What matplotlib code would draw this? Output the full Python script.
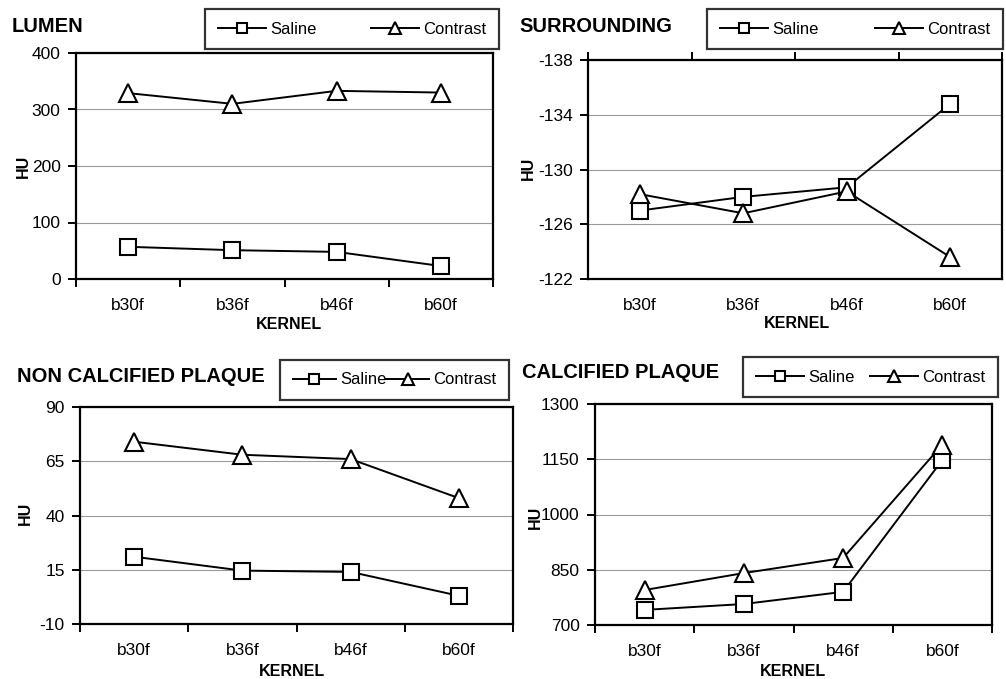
import matplotlib
matplotlib.use("Agg")
import matplotlib.pyplot as plt
from matplotlib.ticker import FixedLocator

plt.rcParams['font.family'] = ['Liberation Sans', 'DejaVu Sans']

kernels = ["b30f", "b36f", "b46f", "b60f"]

lumen_saline = [57, 51, 48, 23]
lumen_contrast = [329, 310, 333, 330]

surr_saline = [-127.0, -128.0, -128.7, -134.8]
surr_contrast = [-128.2, -126.8, -128.4, -123.6]

ncp_saline = [21, 14.6, 14, 3]
ncp_contrast = [74, 68, 66, 48]

cp_saline = [741, 757, 790, 1148]
cp_contrast = [795, 841, 882, 1190]

titles = ["LUMEN", "SURROUNDING", "NON CALCIFIED PLAQUE", "CALCIFIED PLAQUE"]
yticks = [[0, 100, 200, 300, 400],
          [-138, -134, -130, -126, -122],
          [-10, 15, 40, 65, 90],
          [700, 850, 1000, 1150, 1300]]

W, H = 1006, 679
fig = plt.figure(figsize=(W / 100, H / 100), dpi=100)

def fx(px):
    return px / W

def fy(py):
    return 1 - py / H

panels = [
    dict(box=(76, 53, 493, 279), title=(12, 26), leg=(205, 8, 499, 50),
         hu=(23, 166), kern=(289, 324), data=(lumen_saline, lumen_contrast),
         ylim=(0, 400), inv=False, hl=2.9, cs=1.0),
    dict(box=(588, 60, 1002, 279), title=(519, 26), leg=(707, 8, 1003, 50),
         hu=(528, 168), kern=(797, 323), data=(surr_saline, surr_contrast),
         ylim=(-122, -138), inv=True, hl=2.9, cs=1.0),
    dict(box=(80, 407, 513, 624), title=(17, 376), leg=(280, 358, 509, 402),
         hu=(25, 513), kern=(292, 672), data=(ncp_saline, ncp_contrast),
         ylim=(-10, 90), inv=False, hl=2.6, cs=0.3),
    dict(box=(595, 404, 992, 625), title=(522, 372), leg=(743, 354, 998, 400),
         hu=(535, 517), kern=(793, 672), data=(cp_saline, cp_contrast),
         ylim=(700, 1300), inv=False, hl=2.9, cs=1.0),
]

for i, p in enumerate(panels):
    l, t, r, b = p['box']
    ax = fig.add_axes([fx(l), fy(b), (r - l) / W, (b - t) / H])
    x = list(range(len(kernels)))
    sal, con = p['data']
    ax.plot(x, sal, color='black', lw=1.4, marker='s', markersize=11,
            markerfacecolor='white', markeredgecolor='black', markeredgewidth=1.5,
            label='Saline', zorder=3)
    ax.plot(x, con, color='black', lw=1.4, marker='^', markersize=12.5,
            markerfacecolor='white', markeredgecolor='black', markeredgewidth=1.5,
            label='Contrast', zorder=3)
    ax.set_xlim(-0.5, len(kernels) - 0.5)
    ax.set_ylim(*p['ylim'])
    ax.set_yticks(yticks[i])
    ax.set_yticklabels([str(v) for v in yticks[i]])
    ax.set_xticks(x)
    ax.set_xticklabels(kernels)
    ax.xaxis.set_minor_locator(FixedLocator([-0.5, 0.5, 1.5, 2.5, 3.5]))
    ax.yaxis.grid(True, color='#9a9a9a', lw=0.8)
    ax.set_axisbelow(True)
    for s in ax.spines.values():
        s.set_linewidth(1.6)
        s.set_color('black')
    ax.tick_params(axis='y', which='major', length=6, width=1.4, direction='out',
                   pad=5, labelsize=12.5)
    ax.tick_params(axis='x', which='major', length=0, pad=14, labelsize=12.5)
    if p['inv']:
        ax.tick_params(axis='x', which='minor', length=6, width=1.4, direction='out',
                       top=True, bottom=False)
    else:
        ax.tick_params(axis='x', which='minor', length=6, width=1.4, direction='out')
    ax.set_xlabel('KERNEL', fontsize=11.5, fontweight='bold')
    ax.xaxis.set_label_coords(fx(p['kern'][0]), fy(p['kern'][1]), transform=fig.transFigure)
    ax.xaxis.label.set_va('center')
    ax.set_ylabel('HU', fontsize=11.5, fontweight='bold')
    ax.yaxis.set_label_coords(fx(p['hu'][0]), fy(p['hu'][1]), transform=fig.transFigure)
    ax.yaxis.label.set_va('center')

    fig.text(fx(p['title'][0]), fy(p['title'][1]), titles[i], fontsize=14.5,
             fontweight='bold', ha='left', va='center')

    ll, lt, lr, lb = p['leg']
    leg = ax.legend(loc='center', ncol=2, mode='expand',
                    bbox_to_anchor=(fx(ll), fy(lb), (lr - ll) / W, (lb - lt) / H),
                    bbox_transform=fig.transFigure, frameon=True, fancybox=False,
                    edgecolor='black', fontsize=12, handlelength=p['hl'],
                    handletextpad=0.25, borderpad=0.75, markerscale=0.7,
                    borderaxespad=0, columnspacing=p['cs'])
    leg.get_frame().set_linewidth(1.6)

fig.savefig('out.png', dpi=100)
